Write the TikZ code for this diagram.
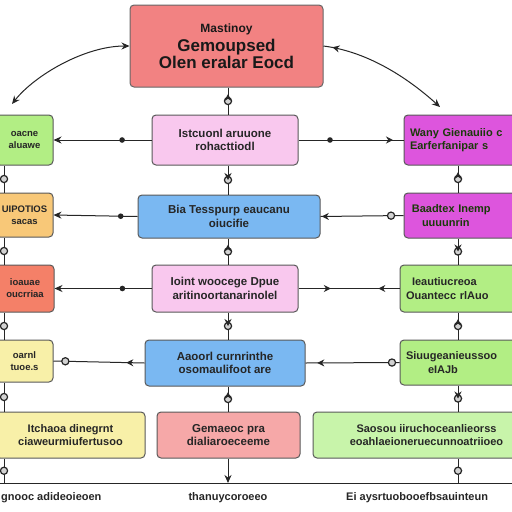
\documentclass[tikz,border=0pt]{standalone}
\usepackage{fontspec}
\setmainfont{Liberation Sans}
\usetikzlibrary{arrows.meta,decorations.markings}
\definecolor{topred}{HTML}{F28282}
\definecolor{pinkf}{HTML}{F9C8EE}
\definecolor{magf}{HTML}{DD55DD}
\definecolor{greenf}{HTML}{B2EE84}
\definecolor{lgreenf}{HTML}{C8F4AA}
\definecolor{orangef}{HTML}{F8C878}
\definecolor{bluef}{HTML}{7AB8F2}
\definecolor{redof}{HTML}{F48068}
\definecolor{yellowf}{HTML}{F8F0A8}
\definecolor{rosef}{HTML}{F6A8A8}
\definecolor{magtext}{HTML}{1A3A0A}
\begin{document}
\begin{tikzpicture}[x=1pt,y=-1pt,
  box/.style={draw=black!65, line width=1pt, rounded corners=4pt, align=center,
    inner sep=2pt, font=\fontsize{11.5}{13.5}\selectfont\bfseries, text=black!85},
  lbox/.style={box, font=\fontsize{9.5}{12}\selectfont\bfseries},
  conn/.style={draw=black!85, line width=1pt},
  tipe/.style={-{Stealth[length=8pt,width=7pt]}},
  mdot/.style={postaction={decorate,decoration={markings,mark=at position #1 with {\fill[black!85] (0,0) circle (2.8pt);}}}},
  mring/.style={postaction={decorate,decoration={markings,mark=at position #1 with {\draw[black!85,line width=1.2pt,fill=gray!35] (0,0) circle (3.6pt);}}}},
  mtip/.style={postaction={decorate,decoration={markings,mark=at position #1 with {\arrow{Stealth[length=7pt,width=7pt]}}}}},
  mrtip/.style={postaction={decorate,decoration={markings,mark=at position #1 with {\arrow{Stealth[length=7pt,width=7pt,reversed]}}}}},
  btext/.style={font=\fontsize{11}{13}\selectfont\bfseries, text=black!85, inner sep=0pt}
]
\useasboundingbox (0,0) rectangle (512,512);
\fill[white] (0,0) rectangle (512,512);
\clip (0,0) rectangle (512,512);

% top box
\node[box, fill=topred, draw=black!60, minimum width=193pt, minimum height=82pt,
  font=\bfseries, text=black!90] (top) at (226.5,46)
  {{\fontsize{12}{14}\selectfont Mastinoy}\\[3pt]
   {\fontsize{17}{22}\selectfont Gemoupsed}\\
   {\fontsize{17}{22}\selectfont Olen eralar Eocd}};

% row 1
\node[lbox, fill=greenf, minimum width=57pt, minimum height=50pt] (l1) at (24.5,140) {oacne\\aluawe};
\node[box, fill=pinkf, minimum width=146pt, minimum height=50pt] (c1) at (225,140) {Istcuonl aruuone\\rohacttiodl};
\node[box, fill=magf, text=magtext, minimum width=136pt, minimum height=50pt, text width=124pt, align=left, font=\fontsize{11}{13.5}\selectfont\bfseries] (r1) at (472,140) {Wany Gienauiio c\\Earferfanipar s};
% row 2
\node[lbox, fill=orangef, minimum width=57pt, minimum height=44pt] (l2) at (24.5,215) {UIPOTIOS\\sacas};
\node[box, fill=bluef, minimum width=182pt, minimum height=43pt] (c2) at (229,216.5) {Bia Tesspurp eaucanu\\oiucifie};
\node[box, fill=magf, text=magtext, minimum width=136pt, minimum height=45pt, text width=124pt, align=left, font=\fontsize{11}{13.5}\selectfont\bfseries] (r2) at (472,215.5) {\,Baadtex Inemp\\\hspace{12pt}uuuunrin};
% row 3
\node[lbox, fill=redof, minimum width=58pt, minimum height=47pt] (l3) at (25,288.5) {ioauae\\oucrriaa};
\node[box, fill=pinkf, minimum width=146pt, minimum height=47pt] (c3) at (225,288.5) {Ioint woocege Dpue\\aritinoortanarinolel};
\node[box, fill=greenf, minimum width=140pt, minimum height=47pt, text width=128pt, align=left, font=\fontsize{11}{13.5}\selectfont\bfseries] (r3) at (470,288.5) {\hspace{6pt}Ieautiucreoa\\Ouantecc rlAuo};
% row 4
\node[lbox, fill=yellowf, minimum width=57pt, minimum height=42pt] (l4) at (24.5,361) {oarnl\\tuoe.s};
\node[box, fill=bluef, minimum width=160pt, minimum height=46pt] (c4) at (225,363) {Aaoorl curnrinthe\\osomaulifoot are};
\node[box, fill=greenf, minimum width=140pt, minimum height=45pt, text width=128pt, align=left, font=\fontsize{11}{13.5}\selectfont\bfseries] (r4) at (470,362.5) {Siuugeanieussoo\\\hspace{22pt}eIAJb};
% row 5
\node[box, fill=yellowf, minimum width=149pt, minimum height=46pt, font=\fontsize{11}{13.5}\selectfont\bfseries] (l5) at (70.5,435) {Itchaoa dinegrnt\\ciaweurmiufertusoo};
\node[box, fill=rosef, minimum width=143pt, minimum height=46pt] (c5) at (228.5,435) {Gemaeoc pra\\dialiaroeceeme};
\node[box, fill=lgreenf, minimum width=227pt, minimum height=46pt, font=\fontsize{11}{13.5}\selectfont\bfseries] (r5) at (426.5,435) {Saosou iiruchoceanlieorss\\eoahlaeioneruecunnoatriioeo};

% helper coordinates
\coordinate (cl) at (12,104);
\coordinate (cr) at (440,107);
\coordinate (cx) at (228,0);
\coordinate (rx) at (458,0);
\coordinate (lx) at (4,0);
\coordinate (bl) at (0,483);
\coordinate (br) at (512,483);

% top curves
\draw[conn, {Stealth[length=8pt,width=7pt]}-{Stealth[length=8pt,width=7pt]}]
  (cl) .. controls (35,75) and (85,46) .. (top.west);
\draw[conn, tipe, mrtip=0.12]
  (top.east) .. controls (370,52) and (410,80) .. (cr);

% horizontal connectors
\draw[conn, tipe, mdot=0.3] (c1.west) -- (l1.east);
\draw[conn, mdot=0.3, mtip=0.9] (c1.east) -- (r1.west);
\draw[conn, tipe, mdot=0.2] (c2.west) -- (l2.east);
\draw[conn, mrtip=0.1, mring=0.85] (c2.east) -- (r2.west);
\draw[conn, tipe, mdot=0.3] (c3.west) -- (l3.east);
\draw[conn, mtip=0.32, mrtip=0.86] (c3.east) -- (r3.west);
\draw[conn, mtip=0.2, mring=0.87] (c4.west) -- (l4.east);
\draw[conn, mrtip=0.2, mring=0.92] (c4.east) -- (r4.west);

% center vertical connectors
\draw[conn, mring=0.5, mrtip=0.5] (top.south -| cx) -- (c1.north -| cx);
\draw[conn, mring=0.5, mtip=0.5] (c1.south -| cx) -- (c2.north -| cx);
\draw[conn, mring=0.5, mrtip=0.5] (c2.south -| cx) -- (c3.north -| cx);
\draw[conn, mring=0.5, mtip=0.5] (c3.south -| cx) -- (c4.north -| cx);
\draw[conn, mring=0.5, mrtip=0.5] (c4.south -| cx) -- (c5.north -| cx);
\draw[conn, tipe] (c5.south -| cx) -- (bl -| cx);

% right vertical connectors
\draw[conn, mring=0.5, mrtip=0.5] (r1.south -| rx) -- (r2.north -| rx);
\draw[conn, mring=0.5, mtip=0.5] (r2.south -| rx) -- (r3.north -| rx);
\draw[conn, mring=0.5, mrtip=0.5] (r3.south -| rx) -- (r4.north -| rx);
\draw[conn, mring=0.5, mtip=0.5] (r4.south -| rx) -- (r5.north -| rx);
\draw[conn, mring=0.5] (r5.south -| rx) -- (bl -| rx);

% left vertical connectors
\draw[conn, mring=0.5] (l1.south -| lx) -- (l2.north -| lx);
\draw[conn, mring=0.5] (l2.south -| lx) -- (l3.north -| lx);
\draw[conn, mring=0.5] (l3.south -| lx) -- (l4.north -| lx);
\draw[conn, mring=0.5] (l4.south -| lx) -- (l5.north -| lx);
\draw[conn, mring=0.5] (l5.south -| lx) -- (bl -| lx);

% bottom line
\draw[conn] (bl) -- (br);

% bottom texts
\node[btext, anchor=west] (t1) at (1,498) {gnooc adideoieoen};
\node[btext] (t2) at (228,498) {thanuycoroeeo};
\node[btext, anchor=west] (t3) at (346,498) {Ei aysrtuobooefbsauinteun};
\end{tikzpicture}
\end{document}
